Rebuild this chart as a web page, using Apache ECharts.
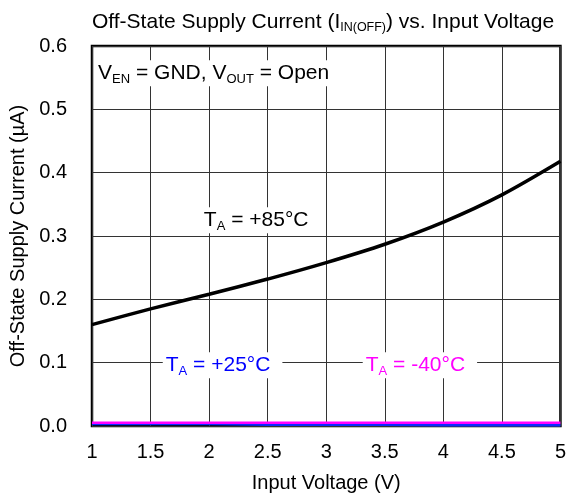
<!DOCTYPE html>
<html><head><meta charset="utf-8">
<script src="https://cdn.jsdelivr.net/npm/echarts@6/dist/echarts.min.js"></script>
<style>html,body{margin:0;padding:0;background:#fff}#c{width:569px;height:500px}</style>
</head><body><div id="c"></div>
<script>
// Data
const voltage = [1, 1.5, 2, 2.5, 3, 3.5, 4, 4.5, 5];
const i85 = [0.160, 0.185, 0.208, 0.232, 0.258, 0.287, 0.322, 0.365, 0.418];
const i25 = [0.003, 0.003, 0.003, 0.002, 0.002, 0.002, 0.001, 0.001, 0.001];
const iM40 = [0.005, 0.005, 0.005, 0.005, 0.005, 0.005, 0.005, 0.005, 0.005];
const xTicks = ['1', '1.5', '2', '2.5', '3', '3.5', '4', '4.5', '5'];
const yTicks = ['0.0', '0.1', '0.2', '0.3', '0.4', '0.5', '0.6'];
// annotations: [x, y, text, colour, position]
const annotations = [
  [1.035, 0.557, '{a|V}{b|EN}{a| = GND, V}{b|OUT}{a| = Open}', '#000', 'right'],
  [2.44, 0.325, '{a|T}{b|A}{a| = +85°C}', '#000', 'inside'],
  [2.115, 0.096, '{a|T}{b|A}{a| = +25°C}', '#0000ff', 'inside'],
  [3.80, 0.096, '{a|T}{b|A}{a| = -40°C}', '#ff00ff', 'inside']
];

const FONT = 'Arial, "Liberation Sans", sans-serif';
const zip = (xs, ys) => xs.map((x, i) => [x, ys[i]]);
function rich(color) {
  return {
    a: { fontSize: 21, fontFamily: FONT, color: color, lineHeight: 26, verticalAlign: 'middle' },
    b: { fontSize: 13, fontFamily: FONT, color: color, lineHeight: 26, verticalAlign: 'bottom', padding: [9, 0, 0, 0] }
  };
}

const chart = echarts.init(document.getElementById('c'), null, { renderer: 'canvas' });
chart.setOption({
  animation: false,
  backgroundColor: '#fff',
  title: {
    text: '{a|Off-State Supply Current (I}{b|IN(OFF)}{a|) vs. Input Voltage}',
    left: 87, top: 5,
    textStyle: {
      fontWeight: 'normal',
      rich: {
        a: { fontSize: 21, fontFamily: FONT, fontWeight: 'normal', color: '#000', lineHeight: 24, verticalAlign: 'middle' },
        b: { fontSize: 12.5, fontFamily: FONT, fontWeight: 'normal', color: '#000', lineHeight: 24, verticalAlign: 'bottom', padding: [8, 0, 0, 0] }
      }
    }
  },
  grid: { left: 90, right: 3, top: 46, bottom: 74, show: true, borderColor: '#000', borderWidth: 2.5, backgroundColor: 'transparent' },
  xAxis: {
    type: 'value', min: 1, max: 5, interval: 0.5,
    name: 'Input Voltage (V)', nameLocation: 'middle', nameGap: 47,
    nameTextStyle: { fontSize: 20, fontFamily: FONT, color: '#000' },
    axisLine: { show: false }, axisTick: { show: false },
    axisLabel: { fontSize: 20, fontFamily: FONT, color: '#000', margin: 16,
      formatter: v => xTicks[Math.round((v - 1) / 0.5)] },
    splitLine: { show: true, lineStyle: { color: '#333', width: 1 } }
  },
  yAxis: {
    type: 'value', min: 0, max: 0.6, interval: 0.1,
    name: 'Off-State Supply Current (µA)', nameLocation: 'middle', nameGap: 64,
    nameTextStyle: { fontSize: 20, fontFamily: FONT, color: '#000' },
    axisLine: { show: false }, axisTick: { show: false },
    axisLabel: { fontSize: 20, fontFamily: FONT, color: '#000', margin: 25,
      formatter: v => yTicks[Math.round(v / 0.1)] },
    splitLine: { show: true, lineStyle: { color: '#333', width: 1 } }
  },
  series: [
    { type: 'line', data: zip(voltage, i85), smooth: 0.3, symbol: 'none', lineStyle: { color: '#000', width: 3.5 }, z: 3 },
    { type: 'line', data: zip(voltage, i25), symbol: 'none', lineStyle: { color: '#0a2aff', width: 2.5 }, z: 3 },
    { type: 'line', data: zip(voltage, iM40), symbol: 'none', lineStyle: { color: '#ff00ff', width: 2.5 }, z: 4 },
    {
      type: 'scatter', symbolSize: 0, z: 5, silent: true,
      itemStyle: { opacity: 1 },
      data: annotations.map(a => ({
        value: [a[0], a[1]],
        label: {
          show: true, position: a[4], formatter: a[2], rich: rich(a[3]), opacity: 1,
          backgroundColor: '#fff', padding: a[4] === 'right' ? [0, 2] : [0, 12, 0, 3], distance: 0
        }
      }))
    }
  ]
});
</script></body></html>
